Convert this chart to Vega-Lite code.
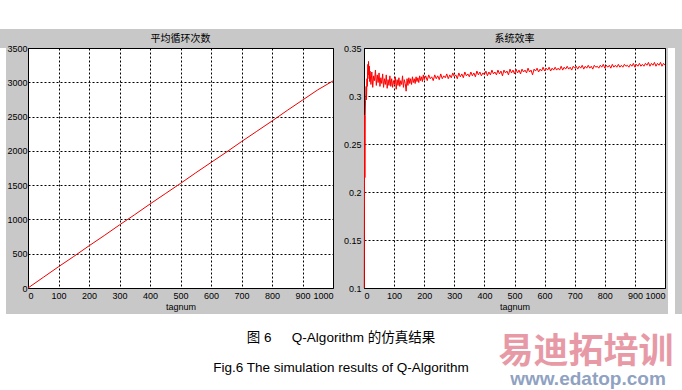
{
  "$schema": "https://vega.github.io/schema/vega-lite/v6.json",
  "background": "#c8c8c8",
  "padding": 0,
  "spacing": 0,
  "config": {
    "view": {"stroke": null},
    "axis": {
      "labelFont": "Liberation Sans",
      "labelFontSize": 9,
      "labelColor": "black",
      "labelOverlap": false,
      "titleFont": "Liberation Sans",
      "titleFontSize": 9,
      "titleFontWeight": "normal",
      "titleColor": "black",
      "gridColor": "black",
      "gridDash": [2, 2],
      "gridOpacity": 1,
      "gridWidth": 1,
      "ticks": false,
      "domain": false
    },
    "title": {
      "font": "Noto Sans CJK SC",
      "fontSize": 10,
      "fontWeight": "normal",
      "color": "black",
      "baseline": "bottom",
      "lineHeight": 4,
      "offset": 0.01
    }
  },
  "datasets": {
    "loops": [
      {"tagnum": 0, "loops": 0}, {"tagnum": 50, "loops": 155}, {"tagnum": 100, "loops": 310},
      {"tagnum": 150, "loops": 460}, {"tagnum": 200, "loops": 615}, {"tagnum": 250, "loops": 765},
      {"tagnum": 300, "loops": 920}, {"tagnum": 350, "loops": 1070}, {"tagnum": 400, "loops": 1225},
      {"tagnum": 450, "loops": 1375}, {"tagnum": 500, "loops": 1525}, {"tagnum": 550, "loops": 1680},
      {"tagnum": 600, "loops": 1830}, {"tagnum": 650, "loops": 1980}, {"tagnum": 700, "loops": 2135},
      {"tagnum": 750, "loops": 2285}, {"tagnum": 800, "loops": 2435}, {"tagnum": 850, "loops": 2590},
      {"tagnum": 900, "loops": 2740}, {"tagnum": 950, "loops": 2890}, {"tagnum": 1000, "loops": 3020}
    ],
    "eff": [
      {"t": 1, "e": 0.1}, {"t": 2, "e": 0.28}, {"t": 3, "e": 0.215}, {"t": 4, "e": 0.28}, {"t": 5, "e": 0.295},
      {"t": 6, "e": 0.3}, {"t": 7, "e": 0.31}, {"t": 8, "e": 0.296}, {"t": 9, "e": 0.305}, {"t": 10, "e": 0.318},
      {"t": 11, "e": 0.31}, {"t": 12, "e": 0.325}, {"t": 13, "e": 0.333}, {"t": 14, "e": 0.322}, {"t": 15, "e": 0.336},
      {"t": 16, "e": 0.328}, {"t": 17, "e": 0.318}, {"t": 18, "e": 0.331}, {"t": 19, "e": 0.315}, {"t": 20, "e": 0.326},
      {"t": 23, "e": 0.312}, {"t": 26, "e": 0.325}, {"t": 29, "e": 0.309}, {"t": 32, "e": 0.321}, {"t": 35, "e": 0.316},
      {"t": 38, "e": 0.327}, {"t": 41, "e": 0.311}, {"t": 44, "e": 0.322}, {"t": 47, "e": 0.314}, {"t": 50, "e": 0.324},
      {"t": 53, "e": 0.31}, {"t": 56, "e": 0.319}, {"t": 59, "e": 0.313}, {"t": 62, "e": 0.323}, {"t": 65, "e": 0.309},
      {"t": 68, "e": 0.318}, {"t": 71, "e": 0.312}, {"t": 74, "e": 0.322}, {"t": 77, "e": 0.308}, {"t": 80, "e": 0.317},
      {"t": 83, "e": 0.311}, {"t": 86, "e": 0.321}, {"t": 89, "e": 0.31}, {"t": 92, "e": 0.318}, {"t": 95, "e": 0.309},
      {"t": 98, "e": 0.316}, {"t": 101, "e": 0.312}, {"t": 104, "e": 0.32}, {"t": 107, "e": 0.307}, {"t": 110, "e": 0.317},
      {"t": 113, "e": 0.311}, {"t": 116, "e": 0.319}, {"t": 119, "e": 0.31}, {"t": 122, "e": 0.316}, {"t": 125, "e": 0.312},
      {"t": 128, "e": 0.321}, {"t": 131, "e": 0.309}, {"t": 134, "e": 0.317}, {"t": 137, "e": 0.313}, {"t": 140, "e": 0.305},
      {"t": 143, "e": 0.318}, {"t": 146, "e": 0.311}, {"t": 149, "e": 0.319}, {"t": 152, "e": 0.313}, {"t": 155, "e": 0.318},
      {"t": 158, "e": 0.312}, {"t": 161, "e": 0.32}, {"t": 164, "e": 0.314}, {"t": 167, "e": 0.318}, {"t": 170, "e": 0.313},
      {"t": 173, "e": 0.32}, {"t": 176, "e": 0.315}, {"t": 179, "e": 0.319}, {"t": 182, "e": 0.314}, {"t": 185, "e": 0.321},
      {"t": 188, "e": 0.316}, {"t": 191, "e": 0.32}, {"t": 194, "e": 0.315}, {"t": 197, "e": 0.322}, {"t": 200, "e": 0.317},
      {"t": 205, "e": 0.321}, {"t": 210, "e": 0.316}, {"t": 215, "e": 0.322}, {"t": 220, "e": 0.318}, {"t": 225, "e": 0.32},
      {"t": 230, "e": 0.316}, {"t": 235, "e": 0.322}, {"t": 240, "e": 0.318}, {"t": 245, "e": 0.321}, {"t": 250, "e": 0.317},
      {"t": 255, "e": 0.323}, {"t": 260, "e": 0.318}, {"t": 265, "e": 0.321}, {"t": 270, "e": 0.319}, {"t": 275, "e": 0.323},
      {"t": 280, "e": 0.318}, {"t": 285, "e": 0.322}, {"t": 290, "e": 0.319}, {"t": 295, "e": 0.324}, {"t": 300, "e": 0.32},
      {"t": 305, "e": 0.322}, {"t": 310, "e": 0.318}, {"t": 315, "e": 0.324}, {"t": 320, "e": 0.32}, {"t": 325, "e": 0.323},
      {"t": 330, "e": 0.319}, {"t": 335, "e": 0.325}, {"t": 340, "e": 0.321}, {"t": 345, "e": 0.323}, {"t": 350, "e": 0.32},
      {"t": 355, "e": 0.325}, {"t": 360, "e": 0.321}, {"t": 365, "e": 0.324}, {"t": 370, "e": 0.32}, {"t": 375, "e": 0.326},
      {"t": 380, "e": 0.322}, {"t": 385, "e": 0.325}, {"t": 390, "e": 0.321}, {"t": 395, "e": 0.324}, {"t": 400, "e": 0.322},
      {"t": 405, "e": 0.326}, {"t": 410, "e": 0.321}, {"t": 415, "e": 0.325}, {"t": 420, "e": 0.322}, {"t": 425, "e": 0.327},
      {"t": 430, "e": 0.323}, {"t": 435, "e": 0.325}, {"t": 440, "e": 0.322}, {"t": 445, "e": 0.327}, {"t": 450, "e": 0.323},
      {"t": 455, "e": 0.326}, {"t": 460, "e": 0.321}, {"t": 465, "e": 0.327}, {"t": 470, "e": 0.324}, {"t": 475, "e": 0.326},
      {"t": 480, "e": 0.322}, {"t": 485, "e": 0.328}, {"t": 490, "e": 0.324}, {"t": 495, "e": 0.327}, {"t": 500, "e": 0.323},
      {"t": 505, "e": 0.328}, {"t": 510, "e": 0.324}, {"t": 515, "e": 0.327}, {"t": 520, "e": 0.323}, {"t": 525, "e": 0.328},
      {"t": 530, "e": 0.325}, {"t": 535, "e": 0.327}, {"t": 540, "e": 0.324}, {"t": 545, "e": 0.329}, {"t": 550, "e": 0.325},
      {"t": 555, "e": 0.327}, {"t": 560, "e": 0.322}, {"t": 565, "e": 0.328}, {"t": 570, "e": 0.326}, {"t": 575, "e": 0.329},
      {"t": 580, "e": 0.325}, {"t": 585, "e": 0.328}, {"t": 590, "e": 0.326}, {"t": 595, "e": 0.33}, {"t": 600, "e": 0.326},
      {"t": 605, "e": 0.329}, {"t": 610, "e": 0.327}, {"t": 615, "e": 0.33}, {"t": 620, "e": 0.326}, {"t": 625, "e": 0.329},
      {"t": 630, "e": 0.327}, {"t": 635, "e": 0.33}, {"t": 640, "e": 0.327}, {"t": 645, "e": 0.329}, {"t": 650, "e": 0.327},
      {"t": 655, "e": 0.331}, {"t": 660, "e": 0.327}, {"t": 665, "e": 0.33}, {"t": 670, "e": 0.328}, {"t": 675, "e": 0.331},
      {"t": 680, "e": 0.328}, {"t": 685, "e": 0.33}, {"t": 690, "e": 0.327}, {"t": 695, "e": 0.331}, {"t": 700, "e": 0.329},
      {"t": 705, "e": 0.331}, {"t": 710, "e": 0.328}, {"t": 715, "e": 0.331}, {"t": 720, "e": 0.329}, {"t": 725, "e": 0.332},
      {"t": 730, "e": 0.328}, {"t": 735, "e": 0.331}, {"t": 740, "e": 0.329}, {"t": 745, "e": 0.332}, {"t": 750, "e": 0.329},
      {"t": 755, "e": 0.331}, {"t": 760, "e": 0.328}, {"t": 765, "e": 0.332}, {"t": 770, "e": 0.33}, {"t": 775, "e": 0.331},
      {"t": 780, "e": 0.329}, {"t": 785, "e": 0.332}, {"t": 790, "e": 0.33}, {"t": 795, "e": 0.333}, {"t": 800, "e": 0.329},
      {"t": 805, "e": 0.332}, {"t": 810, "e": 0.33}, {"t": 815, "e": 0.332}, {"t": 820, "e": 0.329}, {"t": 825, "e": 0.333},
      {"t": 830, "e": 0.33}, {"t": 835, "e": 0.332}, {"t": 840, "e": 0.33}, {"t": 845, "e": 0.333}, {"t": 850, "e": 0.33},
      {"t": 855, "e": 0.332}, {"t": 860, "e": 0.33}, {"t": 865, "e": 0.333}, {"t": 870, "e": 0.331}, {"t": 875, "e": 0.332},
      {"t": 880, "e": 0.33}, {"t": 885, "e": 0.333}, {"t": 890, "e": 0.331}, {"t": 895, "e": 0.334}, {"t": 900, "e": 0.33},
      {"t": 905, "e": 0.333}, {"t": 910, "e": 0.331}, {"t": 915, "e": 0.334}, {"t": 920, "e": 0.331}, {"t": 925, "e": 0.333},
      {"t": 930, "e": 0.331}, {"t": 935, "e": 0.334}, {"t": 940, "e": 0.332}, {"t": 945, "e": 0.335}, {"t": 950, "e": 0.331},
      {"t": 955, "e": 0.334}, {"t": 960, "e": 0.332}, {"t": 965, "e": 0.335}, {"t": 970, "e": 0.331}, {"t": 975, "e": 0.334},
      {"t": 980, "e": 0.332}, {"t": 985, "e": 0.335}, {"t": 990, "e": 0.331}, {"t": 995, "e": 0.334}, {"t": 1000, "e": 0.332}
    ],
    "caption": [
      {"line": "cn", "text": "图 6\u2002\u3000Q-Algorithm 的仿真结果"},
      {"line": "en", "text": "Fig.6 The simulation results of Q-Algorithm"}
    ],
    "mark1": [{"line": "wm", "text": "易迪拓培训"}],
    "mark2": [{"line": "url", "text": "www.edatop.com"}],
    "blank": [{"text": ""}]
  },
  "vconcat": [
    {
      "width": 682,
      "height": 29,
      "view": {"fill": "white", "stroke": null},
      "data": {"name": "blank"},
      "mark": {"type": "text", "text": ""}
    },
    {
      "spacing": 0,
      "hconcat": [
        {
          "width": 6,
          "height": 266,
          "view": {"fill": "white", "stroke": null},
          "data": {"name": "blank"},
          "mark": {"type": "text", "text": ""}
        },
        {
          "width": 305,
          "height": 240,
          "title": {"text": ["", "平均循环次数"]},
          "view": {"fill": "white", "stroke": "black", "strokeWidth": 1},
          "data": {"name": "loops"},
          "mark": {"type": "line", "color": "#ee0000", "strokeWidth": 1},
          "encoding": {
            "x": {
              "field": "tagnum", "type": "quantitative",
              "scale": {"domain": [0, 1000], "nice": false},
              "axis": {"values": [0, 100, 200, 300, 400, 500, 600, 700, 800, 900, 1000], "format": "d", "title": "tagnum", "labelPadding": 3, "titlePadding": 2}
            },
            "y": {
              "field": "loops", "type": "quantitative",
              "scale": {"domain": [0, 3500], "nice": false},
              "axis": {"values": [0, 500, 1000, 1500, 2000, 2500, 3000, 3500], "format": "d", "title": null, "labelPadding": 1}
            }
          }
        },
        {
          "width": 301,
          "height": 240,
          "title": {"text": ["", "系统效率"]},
          "view": {"fill": "white", "stroke": "black", "strokeWidth": 1},
          "data": {"name": "eff"},
          "mark": {"type": "line", "color": "#ff0000", "strokeWidth": 1},
          "encoding": {
            "x": {
              "field": "t", "type": "quantitative",
              "scale": {"domain": [0, 1000], "nice": false},
              "axis": {"values": [0, 100, 200, 300, 400, 500, 600, 700, 800, 900, 1000], "format": "d", "title": "tagnum", "labelPadding": 3, "titlePadding": 2}
            },
            "y": {
              "field": "e", "type": "quantitative",
              "scale": {"domain": [0.1, 0.35], "nice": false},
              "axis": {"values": [0.1, 0.15, 0.2, 0.25, 0.3, 0.35], "format": ".2~f", "title": null, "labelPadding": 3, "minExtent": 27}
            }
          }
        },
        {
          "width": 7,
          "height": 266,
          "view": {"fill": "white", "stroke": null},
          "data": {"name": "blank"},
          "mark": {"type": "text", "text": ""}
        }
      ]
    },
    {
      "width": 682,
      "height": 77,
      "view": {"fill": "white", "stroke": null},
      "resolve": {"scale": {"y": "independent"}},
      "layer": [
        {
          "data": {"name": "caption"},
          "mark": {"type": "text", "font": "Liberation Sans, Noto Sans CJK SC", "fontSize": 13.5, "color": "black"},
          "encoding": {
            "y": {"field": "line", "type": "nominal", "axis": null, "scale": {"type": "point", "domain": ["cn", "en"], "range": [24, 54], "padding": 0}},
            "text": {"field": "text"}
          }
        },
        {
          "data": {"name": "mark1"},
          "mark": {"type": "text", "font": "Noto Sans CJK SC", "fontSize": 35, "fontWeight": "bold", "color": "#e79aa6", "dx": 245},
          "encoding": {
            "y": {"field": "line", "type": "nominal", "axis": null, "scale": {"type": "point", "domain": ["wm"], "range": [38, 38]}},
            "text": {"field": "text"}
          }
        },
        {
          "data": {"name": "mark2"},
          "mark": {"type": "text", "font": "Liberation Sans", "fontSize": 19, "fontWeight": "bold", "color": "#8fa2c2", "dx": 247},
          "encoding": {
            "y": {"field": "line", "type": "nominal", "axis": null, "scale": {"type": "point", "domain": ["url"], "range": [65, 65]}},
            "text": {"field": "text"}
          }
        }
      ]
    }
  ]
}
